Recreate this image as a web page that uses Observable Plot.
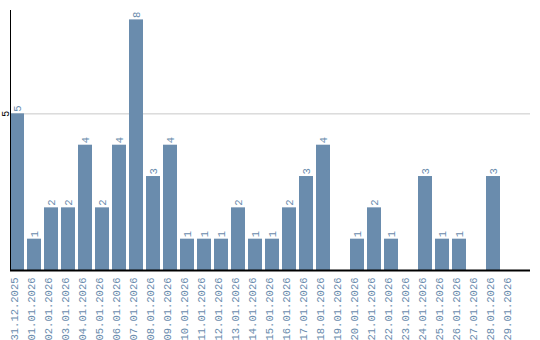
<!DOCTYPE html>
<html><head><meta charset="utf-8">
<script src="https://cdn.jsdelivr.net/npm/d3@7"></script>
<script src="https://cdn.jsdelivr.net/npm/@observablehq/plot@0.6"></script>
<style>body{margin:0;background:#fff}</style>
</head><body><div id="chart"></div>
<script>
const dates = ["31.12.2025","01.01.2026","02.01.2026","03.01.2026","04.01.2026","05.01.2026","06.01.2026","07.01.2026","08.01.2026","09.01.2026","10.01.2026","11.01.2026","12.01.2026","13.01.2026","14.01.2026","15.01.2026","16.01.2026","17.01.2026","18.01.2026","19.01.2026","20.01.2026","21.01.2026","22.01.2026","23.01.2026","24.01.2026","25.01.2026","26.01.2026","27.01.2026","28.01.2026","29.01.2026"];
const counts = [5,1,2,2,4,2,4,8,3,4,1,1,1,2,1,1,2,3,4,0,1,2,1,0,3,1,1,0,3,0];
const yTicks = [5];
const data = dates.map((d,i)=>({date:d, value:counts[i]}));
const color = "#6a8cad";
const chart = Plot.plot({
  width:540, height:340,
  marginLeft:10, marginRight:10, marginTop:10, marginBottom:70,
  style:{fontFamily:"'Liberation Mono', monospace", fontSize:"10.5px", background:"#fff"},
  x:{type:"band", domain:dates, paddingInner:0.176, paddingOuter:0.38, align:0, axis:null},
  y:{domain:[0,8.3], axis:null},
  marks:[
    Plot.gridY(yTicks, {stroke:"#c8c8c8", strokeOpacity:1}),
    Plot.barY(data, {x:"date", y:"value", fill:color}),
    Plot.text(data.filter(d=>d.value>0), {x:"date", y:"value", text:d=>String(d.value), rotate:-90, textAnchor:"start", dy:-2, fill:color, fontSize:10.5}),
    Plot.text(dates, {x:d=>d, frameAnchor:"bottom", dy:7, rotate:-90, textAnchor:"end", fill:color, fontSize:10.5}),
    Plot.text(yTicks, {y:d=>d, text:d=>String(d), frameAnchor:"left", dx:-5, rotate:-90, textAnchor:"middle", fill:"#000", fontSize:10}),
    Plot.ruleY([0], {stroke:"#000", strokeWidth:2}),
    Plot.frame({anchor:"left", stroke:"#000", strokeWidth:1})
  ]
});
document.getElementById("chart").appendChild(chart);
</script></body></html>
